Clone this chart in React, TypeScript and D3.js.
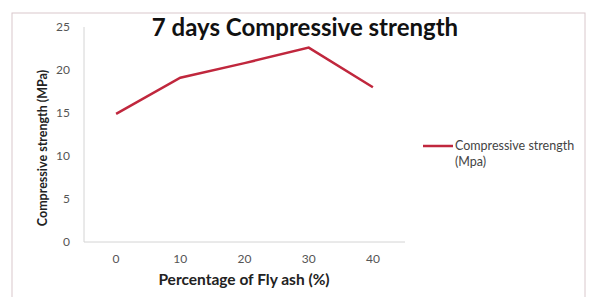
import { useEffect, useRef } from 'react';
import * as d3 from 'd3';

// chart data
const flyAsh = ['0', '10', '20', '30', '40'];
const strength = [14.9, 19.1, 20.8, 22.6, 18.0];
const yTicks = [0, 5, 10, 15, 20, 25];
const seriesName = ['Compressive strength', '(Mpa)'];

const App = () => {
    const svgRef = useRef(null);

    useEffect(() => {
        const svg = d3.select(svgRef.current);
        svg.selectAll('*').remove();

        const font = 'Lato, "Open Sans", sans-serif';

        // outer chart frame
        svg.append('rect')
            .attr('x', 12).attr('y', 13)
            .attr('width', 573).attr('height', 300)
            .attr('fill', 'none')
            .attr('stroke', '#d9c8cc')
            .attr('stroke-width', 1);

        const x = d3.scaleBand().domain(flyAsh).range([84, 405]);
        const y = d3.scaleLinear().domain([0, 25]).range([242, 27]);

        // axes lines
        svg.append('line')
            .attr('x1', 84).attr('x2', 84)
            .attr('y1', y(25)).attr('y2', y(0))
            .attr('stroke', '#d4d4d4');
        svg.append('line')
            .attr('x1', 84).attr('x2', 405)
            .attr('y1', y(0)).attr('y2', y(0))
            .attr('stroke', '#d4d4d4');

        // y tick labels
        svg.append('g').selectAll('text')
            .data(yTicks)
            .enter()
            .append('text')
            .attr('x', 70)
            .attr('y', d => y(d) + 4)
            .attr('text-anchor', 'end')
            .style('font-family', font)
            .style('font-size', '12px')
            .attr('fill', '#555')
            .text(d => d);

        // x tick labels
        svg.append('g').selectAll('text')
            .data(flyAsh)
            .enter()
            .append('text')
            .attr('x', d => x(d) + x.bandwidth() / 2)
            .attr('y', 263)
            .attr('text-anchor', 'middle')
            .style('font-family', font)
            .style('font-size', '12px')
            .attr('fill', '#555')
            .text(d => d);

        // series line
        const line = d3.line()
            .x((d, i) => x(flyAsh[i]) + x.bandwidth() / 2)
            .y(d => y(d));

        svg.append('path')
            .datum(strength)
            .attr('d', line)
            .attr('fill', 'none')
            .attr('stroke', '#c0273d')
            .attr('stroke-width', 2.5);

        // title
        svg.append('text')
            .attr('x', 305).attr('y', 36)
            .attr('text-anchor', 'middle')
            .style('font-family', font)
            .style('font-size', '24px')
            .style('font-weight', 'bold')
            .attr('fill', '#111')
            .text('7 days Compressive strength');

        // axis titles
        svg.append('text')
            .attr('x', 244).attr('y', 285)
            .attr('text-anchor', 'middle')
            .style('font-family', font)
            .style('font-size', '15.5px')
            .style('font-weight', 'bold')
            .attr('fill', '#222')
            .text('Percentage of Fly ash (%)');

        svg.append('text')
            .attr('transform', 'translate(47, 148) rotate(-90)')
            .attr('text-anchor', 'middle')
            .style('font-family', font)
            .style('font-size', '12.5px')
            .style('font-weight', 'bold')
            .attr('fill', '#222')
            .text('Compressive strength (MPa)');

        // legend
        const legend = svg.append('g').attr('transform', 'translate(423, 146)');
        legend.append('line')
            .attr('x1', 0).attr('x2', 30)
            .attr('stroke', '#c0273d')
            .attr('stroke-width', 2.5);
        seriesName.forEach((t, i) => {
            legend.append('text')
                .attr('x', 32)
                .attr('y', 4 + i * 16)
                .style('font-family', font)
                .style('font-size', '12.5px')
                .attr('fill', '#444')
                .text(t);
        });
    }, []);

    return (
        <svg ref={svgRef} width={589} height={297} style={{ position: 'absolute', left: 0, top: 0, background: '#fff' }}></svg>
    );
};

export default App;
